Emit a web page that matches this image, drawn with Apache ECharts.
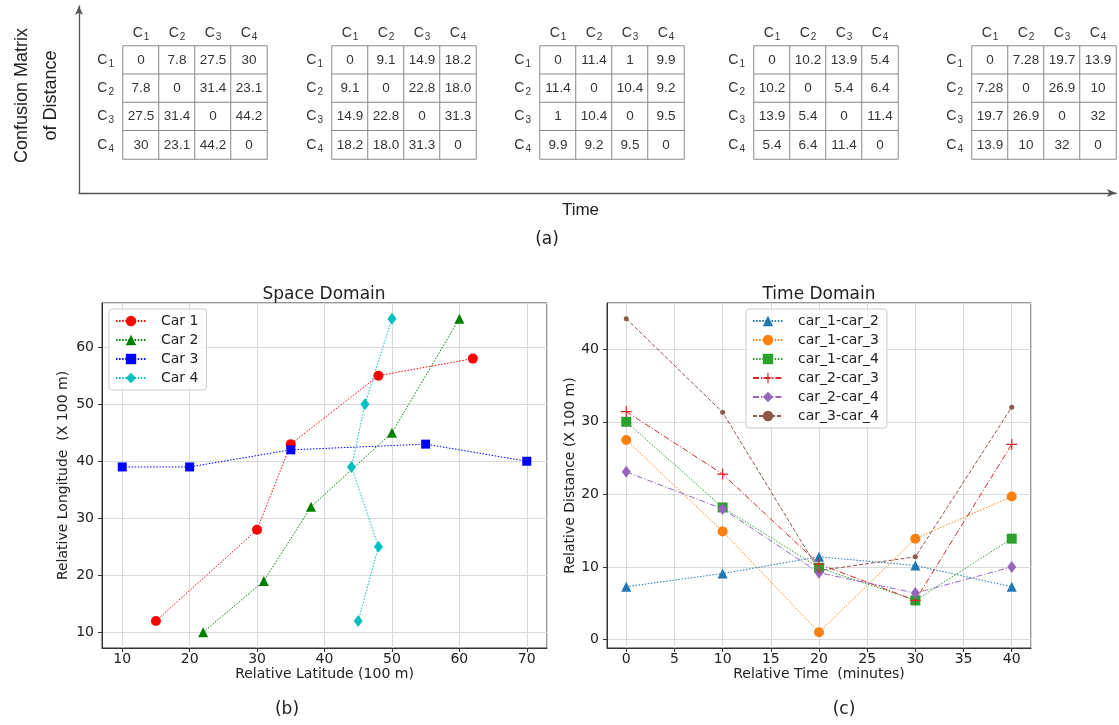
<!DOCTYPE html>
<html>
<head>
<meta charset="utf-8">
<title>Confusion matrix, space and time domain</title>
<script src="https://cdn.jsdelivr.net/npm/echarts@6/dist/echarts.min.js"></script>
<style>
    html, body { margin: 0; padding: 0; background: #fff; }
    #chart { width: 1119px; height: 725px; }
</style>
</head>
<body>
<div id="chart"></div>
<script>
// ---- data ----
const cats = ['C\u2081', 'C\u2082', 'C\u2083', 'C\u2084'];

// distance matrices at each time step (as printed)
const matT0 = [['0', '7.8', '27.5', '30'], ['7.8', '0', '31.4', '23.1'], ['27.5', '31.4', '0', '44.2'], ['30', '23.1', '44.2', '0']];
const matT1 = [['0', '9.1', '14.9', '18.2'], ['9.1', '0', '22.8', '18.0'], ['14.9', '22.8', '0', '31.3'], ['18.2', '18.0', '31.3', '0']];
const matT2 = [['0', '11.4', '1', '9.9'], ['11.4', '0', '10.4', '9.2'], ['1', '10.4', '0', '9.5'], ['9.9', '9.2', '9.5', '0']];
const matT3 = [['0', '10.2', '13.9', '5.4'], ['10.2', '0', '5.4', '6.4'], ['13.9', '5.4', '0', '11.4'], ['5.4', '6.4', '11.4', '0']];
const matT4 = [['0', '7.28', '19.7', '13.9'], ['7.28', '0', '26.9', '10'], ['19.7', '26.9', '0', '32'], ['13.9', '10', '32', '0']];

// space domain: relative latitude / longitude (x 100 m)
const carNames = ['Car 1', 'Car 2', 'Car 3', 'Car 4'];
const car1Lat = [15, 30, 35, 48, 62];
const car1Lon = [12, 28, 43, 55, 58];
const car2Lat = [22, 31, 38, 50, 60];
const car2Lon = [10, 19, 32, 45, 65];
const car3Lat = [10, 20, 35, 55, 70];
const car3Lon = [39, 39, 42, 43, 40];
const car4Lat = [45, 48, 44, 46, 50];
const car4Lon = [12, 25, 39, 50, 65];

// time domain: pairwise distance (x 100 m)
const minutes = [0, 10, 20, 30, 40];
const pairNames = ['car_1-car_2', 'car_1-car_3', 'car_1-car_4', 'car_2-car_3', 'car_2-car_4', 'car_3-car_4'];
const d12 = [7.28, 9.1, 11.4, 10.2, 7.28];
const d13 = [27.5, 14.9, 1, 13.9, 19.7];
const d14 = [30, 18.2, 9.9, 5.4, 13.9];
const d23 = [31.4, 22.8, 10.4, 5.4, 26.9];
const d24 = [23.1, 18.0, 9.2, 6.4, 10];
const d34 = [44.2, 31.3, 9.5, 11.4, 32];

// ---- helpers ----
const mpl = 'DejaVu Sans';
const arial = 'Liberation Sans';
const dotted = [1.5, 1.6];
const dashed = [4, 2];
const dashDot = [6, 2, 1.2, 2];

function pairs(xs, ys) {
    var out = [];
    for (var i = 0; i < xs.length; i++) {
        out.push([xs[i], ys[i]]);
    }
    return out;
}

function cells(m) {
    var out = [];
    for (var r = 0; r < m.length; r++) {
        for (var c = 0; c < m[r].length; c++) {
            out.push([c, r, parseFloat(m[r][c])]);
        }
    }
    return out;
}

// "C₁" -> C with a drawn subscript digit
function subLabel(v) {
    var d = v.charCodeAt(1) - 0x2080;
    return '{c|' + v[0] + '}{s|' + d + '}';
}
const subRich = {
    c: { fontFamily: arial, fontSize: 14, color: '#333', lineHeight: 20, verticalAlign: 'middle' },
    s: { fontFamily: arial, fontSize: 10, color: '#333', lineHeight: 10, verticalAlign: 'bottom', padding: [0, 0, 1, 1] }
};

const mats = [matT0, matT1, matT2, matT3, matT4];
const matLefts = [123, 332, 540, 754, 972];

var grids = [], xAxes = [], yAxes = [], series = [];

// top: five matrices
mats.forEach(function (m, i) {
    grids.push({ left: matLefts[i], top: 46, width: 144, height: 113 });
    xAxes.push({
        gridIndex: i, type: 'category', data: cats, position: 'top',
        axisLine: { show: false }, axisTick: { show: false }, splitLine: { show: false },
        axisLabel: { formatter: subLabel, rich: subRich, margin: 3, interval: 0 }
    });
    yAxes.push({
        gridIndex: i, type: 'category', data: cats, inverse: true,
        axisLine: { show: false }, axisTick: { show: false }, splitLine: { show: false },
        axisLabel: { formatter: subLabel, rich: subRich, margin: 9, interval: 0 }
    });
    series.push({
        type: 'heatmap', xAxisIndex: i, yAxisIndex: i,
        data: cells(m),
        itemStyle: { color: '#fff', borderColor: '#8a8a8a', borderWidth: 1 },
        label: {
            show: true, fontFamily: arial, fontSize: 13.5, color: '#333',
            formatter: function (p) { return m[p.value[1]][p.value[0]]; }
        },
        emphasis: { disabled: true }
    });
});

// top: arrow axes
grids.push({ left: 70, top: 6, width: 1046, height: 187 });
xAxes.push({
    gridIndex: 5, type: 'value', min: 0, max: 1,
    axisLine: { show: true, symbol: ['none', 'arrow'], symbolSize: [6, 9], lineStyle: { color: '#555', width: 1.3 } },
    axisTick: { show: false }, axisLabel: { show: false }, splitLine: { show: false },
    name: 'Time', nameLocation: 'middle', nameGap: 9,
    nameTextStyle: { fontFamily: arial, fontSize: 17, color: '#222', padding: [0, 34, 0, 0] }
});
yAxes.push({
    gridIndex: 5, type: 'value', min: 0, max: 1,
    axisLine: { show: true, symbol: ['none', 'arrow'], symbolSize: [6, 9], lineStyle: { color: '#555', width: 1.3 } },
    axisTick: { show: false }, axisLabel: { show: false }, splitLine: { show: false },
    name: 'Confusion Matrix\nof Distance', nameLocation: 'middle', nameGap: 13,
    nameTextStyle: { fontFamily: arial, fontSize: 18, lineHeight: 29, color: '#222', padding: [0, 0, 0, 8] }
});

// bottom-left / bottom-right plots
function plotAxes(idx, xmin, xmax, xsplit, ymin, ymax, xname, yname, yGap) {
    var common = {
        gridIndex: idx, type: 'value',
        axisLine: { show: true, onZero: false, lineStyle: { color: '#333', width: 1 } },
        axisTick: { show: true, length: 4, lineStyle: { color: '#333' } },
        splitLine: { show: true, lineStyle: { color: '#d9d9d9', width: 1 } },
        nameLocation: 'middle',
        nameTextStyle: { fontFamily: mpl, fontSize: 14, color: '#222' }
    };
    xAxes.push(Object.assign({}, common, {
        min: xmin, max: xmax, splitNumber: xsplit,
        axisLabel: { fontFamily: mpl, fontSize: 14, color: '#222', margin: 4, showMinLabel: false, showMaxLabel: false },
        name: xname, nameGap: 18
    }));
    yAxes.push(Object.assign({}, common, {
        min: ymin, max: ymax, splitNumber: 5,
        axisLabel: { fontFamily: mpl, fontSize: 14, color: '#222', margin: 8, showMinLabel: false, showMaxLabel: false },
        name: yname, nameGap: yGap
    }));
}

grids.push({ left: 102, top: 303, width: 445, height: 345, show: true, borderColor: '#333', borderWidth: 1 });
plotAxes(6, 7, 73, 5, 7.25, 67.75, 'Relative Latitude (100 m)', 'Relative Longitude  (X 100 m)', 32);

grids.push({ left: 607, top: 303, width: 424, height: 345, show: true, borderColor: '#333', borderWidth: 1 });
plotAxes(7, -2, 42, 9, -1.16, 46.36, 'Relative Time  (minutes)', 'Relative Distance (X 100 m)', 26);

function lineSeries(name, axis, data, color, symbol, size, dash) {
    return {
        name: name, type: 'line', xAxisIndex: axis, yAxisIndex: axis,
        data: data, symbol: symbol, symbolSize: size, showSymbol: true,
        lineStyle: { color: color, width: 1, type: dash },
        itemStyle: { color: color },
        emphasis: { disabled: true }
    };
}

const plus = 'path://M4.45,0H5.55V4.45H10V5.55H5.55V10H4.45V5.55H0V4.45H4.45Z';

series.push(lineSeries('Car 1', 6, pairs(car1Lat, car1Lon), '#ff0000', 'circle', 10, dotted));
series.push(lineSeries('Car 2', 6, pairs(car2Lat, car2Lon), '#008000', 'triangle', 10, dotted));
series.push(lineSeries('Car 3', 6, pairs(car3Lat, car3Lon), '#0000ff', 'rect', 9, dotted));
series.push(lineSeries('Car 4', 6, pairs(car4Lat, car4Lon), '#00bfbf', 'diamond', [9, 12], dotted));

series.push(lineSeries('car_1-car_2', 7, pairs(minutes, d12), '#1f77b4', 'triangle', 10, dotted));
series.push(lineSeries('car_1-car_3', 7, pairs(minutes, d13), '#ff7f0e', 'circle', 10, dotted));
series.push(lineSeries('car_1-car_4', 7, pairs(minutes, d14), '#2ca02c', 'rect', 10, dotted));
series.push(lineSeries('car_2-car_3', 7, pairs(minutes, d23), '#d62728', plus, 11, dashDot));
series.push(lineSeries('car_2-car_4', 7, pairs(minutes, d24), '#9467bd', 'diamond', [9, 12], dashDot));
series.push(lineSeries('car_3-car_4', 7, pairs(minutes, d34), '#8c564b', 'circle', 5, dashed));

function legendBox(names, left, top) {
    return {
        data: names, orient: 'vertical', left: left, top: top,
        itemWidth: 30, itemHeight: 13, itemGap: 5,
        padding: [5, 8, 5, 6],
        backgroundColor: 'rgba(255,255,255,0.8)', borderColor: '#cccccc', borderWidth: 1, borderRadius: 3,
        textStyle: { fontFamily: mpl, fontSize: 14, color: '#222', lineHeight: 14, padding: [0, 0, 0, 10] },
        selectedMode: false
    };
}

function label(text, x, y, size, family) {
    return {
        type: 'text', x: x, y: y,
        style: { text: text, fontFamily: family || mpl, fontSize: size, fill: '#222', align: 'center', verticalAlign: 'middle' }
    };
}

var chart = echarts.init(document.getElementById('chart'));
chart.setOption({
    animation: false,
    backgroundColor: '#fff',
    grid: grids,
    xAxis: xAxes,
    yAxis: yAxes,
    legend: [legendBox(carNames, 109, 309), legendBox(pairNames, 746, 309)],
    series: series,
    graphic: [
        label('(a)', 547, 240, 17),
        label('Space Domain', 324, 295, 17),
        label('Time Domain', 819, 295, 17),
        label('(b)', 287, 710, 17),
        label('(c)', 844, 710, 17)
    ]
});
</script>
</body>
</html>
